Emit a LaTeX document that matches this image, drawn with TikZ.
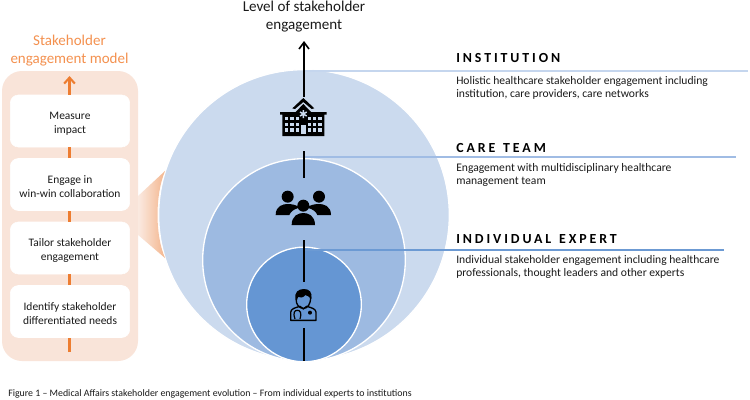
\documentclass[tikz,border=0pt]{standalone}
\usepackage{fontspec}
\usetikzlibrary{arrows.meta}
\setmainfont{Carlito}
\newfontfamily\headfont[LetterSpace=21,WordSpace=1.3]{Carlito}
\newcommand{\boxstrut}{\rule{0pt}{9pt}}
\definecolor{cbig}{HTML}{CBDAEE}
\definecolor{cmid}{HTML}{9DBAE1}
\definecolor{csmall}{HTML}{6596D3}
\definecolor{lbig}{HTML}{C5D6EE}
\definecolor{lmid}{HTML}{A0BCE4}
\definecolor{lsmall}{HTML}{6C9AD3}
\definecolor{panelc}{HTML}{F9E4D9}
\definecolor{orangec}{HTML}{ED7D31}
\definecolor{titlec}{HTML}{F4914F}
\definecolor{ink}{HTML}{1A1A1A}
\tikzset{
  disc/.style={circle,draw=white,line width=1pt,inner sep=0pt,minimum size=#1},
  stepbox/.style={draw=white,fill=white,rounded corners=6pt,minimum width=89.5pt,minimum height=39pt,align=center,inner sep=0pt,font=\fontsize{8.6pt}{10.5pt}\selectfont,text=ink},
  orangeline/.style={draw=orangec,line width=1.6pt},
  axisline/.style={draw=black,line width=1.2pt},
  heading/.style={anchor=base west,inner sep=0pt,font=\fontsize{10.4pt}{12pt}\selectfont\bfseries\headfont,text=black},
  desc/.style={anchor=north west,inner sep=0pt,align=left,font=\fontsize{8.7pt}{10pt}\selectfont,text=ink},
  rule/.style={line width=1.3pt},
}
\begin{document}
\begin{tikzpicture}[x=0.75pt,y=-0.75pt]
\useasboundingbox (0,0) rectangle (750,400);
\fill[white] (0,0) rectangle (750,400);
% discs
\node[disc=218pt,fill=cbig] (big) at (304,215) {};
\node[disc=152pt,fill=cmid] (mid) at (304,260) {};
\node[disc=86pt,fill=csmall] (small) at (304,304.5) {};
% funnel
\shade[left color=panelc!70!white,right color=orangec!45!panelc]
  (137,197) -- (165,171) .. controls (155,195) and (155,235) .. (165,258) -- (137,234) -- cycle;
% panel
\node[draw=none,fill=panelc,rounded corners=15pt,minimum width=102pt,minimum height=217.5pt,inner sep=0pt] (panel) at (70,216) {};
\node[stepbox] (s4) at (70,121) {\boxstrut Measure\\impact};
\node[stepbox] (s3) at (70,184.5) {\boxstrut Engage in\\win-win collaboration};
\node[stepbox] (s2) at (70,248) {\boxstrut Tailor stakeholder\\engagement};
\node[stepbox] (s1) at (70,311.5) {\boxstrut Identify stakeholder\\differentiated needs};
\coordinate (pb) at (69.5,352);
\coordinate (pt) at (69.5,76);
\draw[orangeline] (pb) -- (s1.south -| pb);
\draw[orangeline] (s1.north -| pb) -- (s2.south -| pb);
\draw[orangeline] (s2.north -| pb) -- (s3.south -| pb);
\draw[orangeline] (s3.north -| pb) -- (s4.south -| pb);
\draw[orangeline,-{Straight Barb[length=4.5pt,width=8pt]}] (s4.north -| pb) -- (pt);
\node[inner sep=0pt,align=center,text=titlec,font=\fontsize{11.25pt}{13.5pt}\selectfont] (modeltitle) at (69.5,50.5) {Stakeholder\\engagement model};
% rules
\coordinate (r1) at (748,71);
\coordinate (r2) at (736,157);
\coordinate (r3) at (724,250);
\draw[rule,lbig] (304,71) -- (r1);
\draw[rule,lmid] (304,157) -- (r2);
\draw[rule,lsmall] (304,250) -- (r3);
% axis
\node[inner sep=0pt,align=center,text=ink,font=\fontsize{11.3pt}{13.5pt}\selectfont] (axistitle) at (304,16.5) {Level of stakeholder\\engagement};
\coordinate (a0) at (304,97);
\coordinate (a0b) at (304,41);
\draw[axisline,-{Straight Barb[length=5pt,width=7.5pt]}] (a0) -- (a0b);
\coordinate (a1) at (304,151); \coordinate (a1b) at (304,178);
\draw[axisline] (a1) -- (a1b);
\coordinate (a2) at (304,240); \coordinate (a2b) at (304,282);
\draw[axisline] (a2) -- (a2b);
\coordinate (a3) at (304,328); \coordinate (a3b) at (304,361);
\draw[axisline] (a3) -- (a3b);
% hospital icon
\begin{scope}[shift={(260,90)},x=0.25pt,y=-0.25pt]
  \fill[black] (130,24) -- (163,55) -- (155,57) -- (130,36) -- (105,57) -- (97,55) -- cycle;
  \fill[black] (130,42) -- (153,66) -- (200,66) -- (200,74) -- (193,74) -- (193,138) -- (67,138) -- (67,74) -- (60,74) -- (60,66) -- (107,66) -- cycle;
  \foreach \xx in {80,96,112,148,164,180}
    \foreach \yy in {86,103,120}
      \fill[cbig] (\xx-5,\yy-5) rectangle (\xx+5,\yy+5);
  \fill[cbig] (124,106) rectangle (137,131);
  \draw[cbig,line width=1.1pt] (130,60) -- (130,84) (120,66) -- (140,78) (120,78) -- (140,66);
\end{scope}
% people icon
\begin{scope}[shift={(260,175)},x=0.25pt,y=-0.25pt]
  \fill[black] (83,65) circle[radius=18];
  \fill[black] (177,65) circle[radius=18];
  \fill[black] (47,120) .. controls (47,92) and (70,87) .. (83,87) .. controls (95,87) and (112,90) .. (118,98) .. controls (100,103) and (92,110) .. (88,120) -- cycle;
  \fill[black] (213,120) .. controls (213,92) and (190,87) .. (177,87) .. controls (165,87) and (148,90) .. (142,98) .. controls (160,103) and (168,110) .. (172,120) -- cycle;
  \fill[black] (130,92) circle[radius=18];
  \fill[black] (95,150) .. controls (95,122) and (115,114) .. (130,114) .. controls (145,114) and (165,122) .. (165,150) -- cycle;
\end{scope}
% doctor icon
\begin{scope}[shift={(270,275)},x=0.25pt,y=-0.25pt]
  \draw[black,line width=1pt] (78,70) .. controls (78,90) and (88,100) .. (100,100) .. controls (112,100) and (122,90) .. (122,65);
  \fill[black] (77,72) .. controls (72,52) and (85,42) .. (102,42) .. controls (118,42) and (128,52) .. (124,72) .. controls (118,65) and (112,62) .. (106,60) .. controls (100,68) and (90,70) .. (84,66) -- (80,78) -- cycle;
  \draw[black,line width=1pt,line join=round] (62,136) -- (62,112) .. controls (62,102) and (75,98) .. (90,94) -- (100,102) -- (110,94) .. controls (125,98) and (138,102) .. (138,112) -- (138,136) -- cycle;
  \draw[black,line width=0.9pt] (75,132) .. controls (68,112) and (74,106) .. (82,106) .. controls (90,106) and (96,112) .. (90,132);
  \fill[black] (120,113) circle[radius=6];
\end{scope}
% right text
\node[heading] (h1) at (456,62) {INSTITUTION};
\node[desc] (d1) at (456,76) {Holistic healthcare stakeholder engagement including\\institution, care providers, care networks};
\node[heading] (h2) at (456,152.5) {CARE TEAM};
\node[desc] (d2) at (456,163) {Engagement with multidisciplinary healthcare\\management team};
\node[heading] (h3) at (456,243) {INDIVIDUAL EXPERT};
\node[desc] (d3) at (456,255) {Individual stakeholder engagement including healthcare\\professionals, thought leaders and other experts};
\node[anchor=base west,inner sep=0pt,text=ink,font=\fontsize{7.4pt}{8pt}\selectfont] (cap) at (8,396) {Figure 1 – Medical Affairs stakeholder engagement evolution – From individual experts to institutions};
\end{tikzpicture}
\end{document}
